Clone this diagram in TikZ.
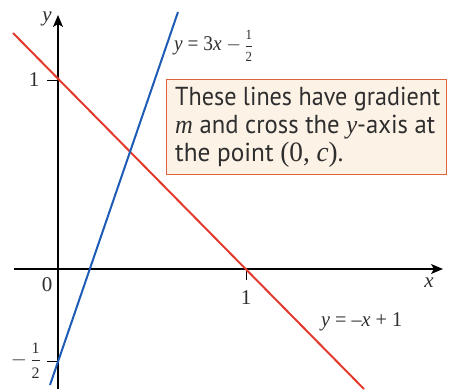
\documentclass[tikz,border=0pt]{standalone}
\usepackage{fontspec}
\usepackage{graphicx}
\setmainfont{Liberation Serif}
\newfontfamily\boxfont{PT Sans}
\usetikzlibrary{arrows.meta}
\definecolor{redline}{HTML}{E23B2E}
\definecolor{blueline}{HTML}{1D5BB5}
\definecolor{boxfill}{HTML}{FCF2E6}
\definecolor{boxdraw}{HTML}{E0623F}
\definecolor{txt}{HTML}{2E2E2E}
\newcommand{\fracsz}[3]{\ensuremath{\frac{\hbox{\fontsize{#1}{#1}\selectfont\rule[-0.4em]{0pt}{0.4em}#2}}{\hbox{\fontsize{#1}{#1}\selectfont\rule{0pt}{1.1em}#3}}}}
\newcommand{\varit}[1]{{\rmfamily\itshape\fontsize{26}{28}\selectfont #1}}
\begin{document}
\begin{tikzpicture}[x=1pt,y=-1pt,
  axisline/.style={line width=1.3pt,draw=black,-{Stealth[length=12pt,width=10pt,inset=3pt]}},
  tickline/.style={line width=1pt,draw=black},
  graphline/.style={line width=2pt},
  lbl/.style={font=\fontsize{21}{21}\selectfont,text=txt,inner sep=0pt},
  notebox/.style={draw=boxdraw,fill=boxfill,line width=1pt},
  notetext/.style={anchor=base west,inner sep=0pt,align=left,text=txt,
    font=\boxfont\fontsize{26}{28}\selectfont}]
\useasboundingbox (0,0) rectangle (450,389);
% axes
\coordinate (xl) at (14,269);
\coordinate (xr) at (443,269);
\coordinate (yb) at (58,389);
\coordinate (yt) at (58,15);
\draw[axisline] (xl) -- (xr);
\draw[axisline] (yb) -- (yt);
% ticks
\coordinate (ta1) at (47,80);  \coordinate (tb1) at (58,80);
\coordinate (ta2) at (47,361); \coordinate (tb2) at (58,361);
\coordinate (ta3) at (246,269); \coordinate (tb3) at (246,280);
\draw[tickline] (ta1) -- (tb1);
\draw[tickline] (ta2) -- (tb2);
\draw[tickline] (ta3) -- (tb3);
% lines
\coordinate (r1) at (13,33);
\coordinate (r2) at (364,389);
\coordinate (b1) at (50,385);
\coordinate (b2) at (178,12);
\draw[graphline,draw=redline] (r1) -- (r2);
\draw[graphline,draw=blueline] (b1) -- (b2);
% labels
\node[lbl] (ylab) at (47,19) {\itshape y};
\node[lbl] (xlab) at (429,283) {\itshape x};
\node[lbl] (one) at (34,80) {1};
\node[lbl] (zero) at (47,285) {0};
\node[lbl] (onex) at (246,298) {1};
\node[lbl,anchor=east] (mhalf) at (41,361) {$-$\,\fracsz{16}{1}{2}};
\node[lbl,anchor=west] (eqb) at (174,46) {\resizebox{79pt}{\height}{\itshape y\upshape\ = 3\itshape x\upshape\ $-$\,\fracsz{14}{1}{2}}};
\node[lbl,anchor=west] (eqr) at (321,322) {\resizebox{81pt}{\height}{\itshape y\upshape\ = --\itshape x\upshape\ + 1}};
% note
\node[notebox,minimum width=280pt,minimum height=95pt,anchor=north west,inner sep=0pt] (note) at (166,79) {};
\node[notetext] (l1) at (175,105) {\resizebox{265pt}{\height}{These lines have gradient}};
\node[notetext] (l2) at (175,133) {\resizebox{260pt}{\height}{\varit{m} and cross the \varit{y}-axis at}};
\node[notetext] (l3) at (175,161) {\resizebox{168pt}{\height}{the point {\rmfamily\fontsize{28}{28}\selectfont (0, \itshape c\upshape)}.}};
\end{tikzpicture}
\end{document}
